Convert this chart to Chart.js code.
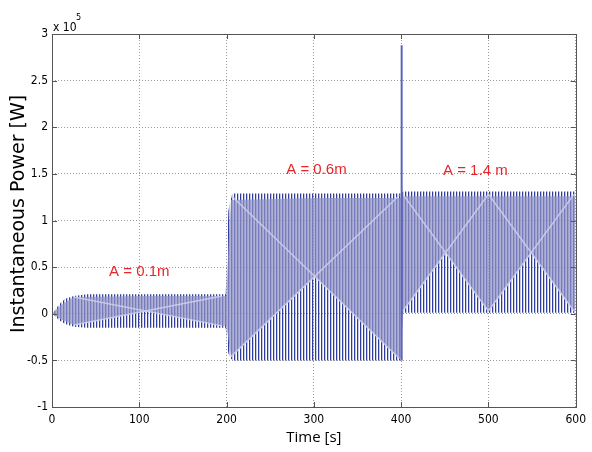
<!DOCTYPE html>
<html><head><meta charset="utf-8">
<script src="https://cdn.jsdelivr.net/npm/chart.js@4/dist/chart.umd.min.js"></script>
<style>html,body{margin:0;padding:0;background:#fff}#wrap{width:592px;height:452px;position:relative}</style>
</head><body><div id="wrap"><canvas id="c" width="592" height="452"></canvas></div>
<script>
// ---- data (power in units of 1e5 W) ----
const xTicks = [0, 100, 200, 300, 400, 500, 600];
const yTicks = [-1, -0.5, 0, 0.5, 1, 1.5, 2, 2.5, 3];
// outer envelope of the fast oscillation
const envT   = [0, 3, 8, 15, 25, 40, 100, 199, 200.5, 202, 204, 207, 300, 399.5, 400, 401.5, 402, 500, 600];
const envMax = [0, 0.03, 0.1, 0.16, 0.19, 0.21, 0.21, 0.21, 0.6, 1.1, 1.2, 1.29, 1.29, 1.29, 1.3, 1.3, 1.31, 1.31, 1.31];
const envMin = [0, -0.02, -0.07, -0.11, -0.14, -0.15, -0.15, -0.15, -0.3, -0.42, -0.47, -0.5, -0.5, -0.5, -0.5, 0.0, 0.01, 0.01, 0.01];
// dense (lavender) part of the oscillation band
const lavT   = [0, 10, 25, 110, 195, 200, 201, 205, 301.5, 398, 400, 402, 451, 500, 549, 598, 600];
const lavHi  = [0, 0.09, 0.18, 0.19, 0.19, 0.19, 0.5, 1.22, 1.24, 1.24, 1.24, 1.26, 1.26, 1.26, 1.26, 1.26, 1.26];
const lavLo  = [0, -0.06, -0.12, 0.03, -0.13, -0.13, -0.2, -0.46, 0.40, -0.48, -0.48, 0.03, 0.655, 0.03, 0.655, 0.03, 0.06];
// beat (moire) crossing lines, null separates the three regimes
const beatT  = [25, 195, null, 205, 398, null, 402, 500, 598];
const beatA  = [0.18, -0.13, null, 1.27, -0.48, null, 1.28, 0.03, 1.28];
const beatB  = [-0.12, 0.19, null, -0.46, 1.27, null, 0.03, 1.28, 0.03];
// switching spike at t = 400 s
const spikeT = [400.6, 400.6];
const spikeP = [-0.5, 2.88];
// annotations
const noteText = ['A = 0.1m', 'A = 0.6m', 'A = 1.4 m'];
const noteT    = [100, 303, 485];
const noteP    = [0.45, 1.54, 1.53];
const yTitle   = 'Instantaneous Power [W]';

const pts = (xs, ys) => xs.map((x, i) => ({x: x === null ? (xs[i - 1] + 0.5) : x, y: ys[i]}));

// stripe pattern to mimic the dense vertical oscillation lines
const pc = document.createElement('canvas'); pc.width = 3; pc.height = 1;
const pctx = pc.getContext('2d');
pctx.fillStyle = '#2f3e9c'; pctx.fillRect(0, 0, 1, 1);
pctx.fillStyle = 'rgba(90,100,175,0.35)'; pctx.fillRect(1, 0, 1, 1);
const stripe = document.createElement('canvas').getContext('2d').createPattern(pc, 'repeat');

const decor = {
  id: 'decor',
  afterDraw(chart) {
    const {ctx, chartArea: a, scales: {x, y}} = chart;
    ctx.save();
    ctx.strokeStyle = '#555'; ctx.lineWidth = 1;
    ctx.strokeRect(Math.round(a.left) + 0.5, Math.round(a.top) + 0.5, Math.round(a.right - a.left), Math.round(a.bottom - a.top));
    ctx.beginPath();
    xTicks.forEach(t => {
      const px = Math.round(x.getPixelForValue(t)) + 0.5;
      ctx.moveTo(px, a.bottom); ctx.lineTo(px, a.bottom - 5);
      ctx.moveTo(px, a.top); ctx.lineTo(px, a.top + 5);
    });
    yTicks.forEach(v => {
      const py = Math.round(y.getPixelForValue(v)) + 0.5;
      ctx.moveTo(a.left, py); ctx.lineTo(a.left + 5, py);
      ctx.moveTo(a.right, py); ctx.lineTo(a.right - 5, py);
    });
    ctx.stroke();
    // exponent
    ctx.fillStyle = '#000';
    ctx.font = '12px "DejaVu Sans Condensed", "Liberation Sans", sans-serif';
    ctx.textBaseline = 'alphabetic'; ctx.textAlign = 'left';
    ctx.fillText('x 10', 53, 31);
    ctx.font = '9px "DejaVu Sans Condensed", "Liberation Sans", sans-serif';
    ctx.fillText('5', 76, 20);
    // y axis title
    ctx.save();
    ctx.translate(19, 214);
    ctx.rotate(-Math.PI / 2);
    ctx.font = '19px "DejaVu Sans", sans-serif';
    ctx.textAlign = 'center'; ctx.textBaseline = 'middle';
    ctx.fillText(yTitle, 0, 0);
    ctx.restore();
    // annotations
    ctx.fillStyle = '#e8262a';
    ctx.font = '15px "Liberation Sans", sans-serif';
    ctx.textAlign = 'center'; ctx.textBaseline = 'middle';
    noteText.forEach((s, i) => ctx.fillText(s, x.getPixelForValue(noteT[i]), y.getPixelForValue(noteP[i])));
    ctx.restore();
  }
};

const tickFont = {family: '"DejaVu Sans Condensed", "Liberation Sans", sans-serif', size: 12};
const beatLine = {borderWidth: 1.5, borderColor: 'rgba(208,208,236,0.85)', pointRadius: 0, fill: false, spanGaps: false, order: 0};
new Chart(document.getElementById('c'), {
  type: 'line',
  data: {
    datasets: [
      {data: pts(beatT, beatA), ...beatLine},
      {data: pts(beatT, beatB), ...beatLine},
      {data: pts(lavT, lavHi), borderWidth: 0, pointRadius: 0, fill: false, order: 1},
      {data: pts(lavT, lavLo), borderWidth: 0, pointRadius: 0, fill: '-1', backgroundColor: 'rgba(145,147,200,0.72)', order: 1},
      {data: pts(envT, envMax), borderWidth: 0, pointRadius: 0, fill: false, order: 2},
      {data: pts(envT, envMin), borderWidth: 0, pointRadius: 0, fill: '-1', backgroundColor: stripe, order: 2},
      {data: pts(spikeT, spikeP), borderWidth: 2, borderColor: '#5b66b8', pointRadius: 0, fill: false, order: -1}
    ]
  },
  options: {
    responsive: false, animation: false,
    events: [],
    layout: {padding: {top: 34, right: 9, left: 0, bottom: 0}},
    plugins: {legend: {display: false}, tooltip: {enabled: false}},
    elements: {line: {tension: 0}},
    scales: {
      x: {
        type: 'linear', min: 0, max: 600,
        afterBuildTicks: s => { s.ticks = xTicks.map(v => ({value: v})); },
        afterFit: s => { s.height = 45; },
        grid: {color: '#9a9a9a', drawTicks: false, lineWidth: 1},
        border: {display: false, dash: [1, 2]},
        ticks: {font: tickFont, color: '#000', padding: 6, maxRotation: 0, callback: v => String(v)},
        title: {display: true, text: 'Time [s]', color: '#000', font: {family: '"Open Sans", sans-serif', size: 15}, padding: {top: 0, bottom: 5}}
      },
      y: {
        type: 'linear', min: -1, max: 3,
        afterBuildTicks: s => { s.ticks = yTicks.map(v => ({value: v})); },
        afterFit: s => { s.width = 52; },
        grid: {color: '#9a9a9a', drawTicks: false, lineWidth: 1},
        border: {display: false, dash: [1, 2]},
        ticks: {font: tickFont, color: '#000', padding: 4, callback: v => String(v)},
        title: {display: false}
      }
    }
  },
  plugins: [decor]
});
</script>
</body></html>
